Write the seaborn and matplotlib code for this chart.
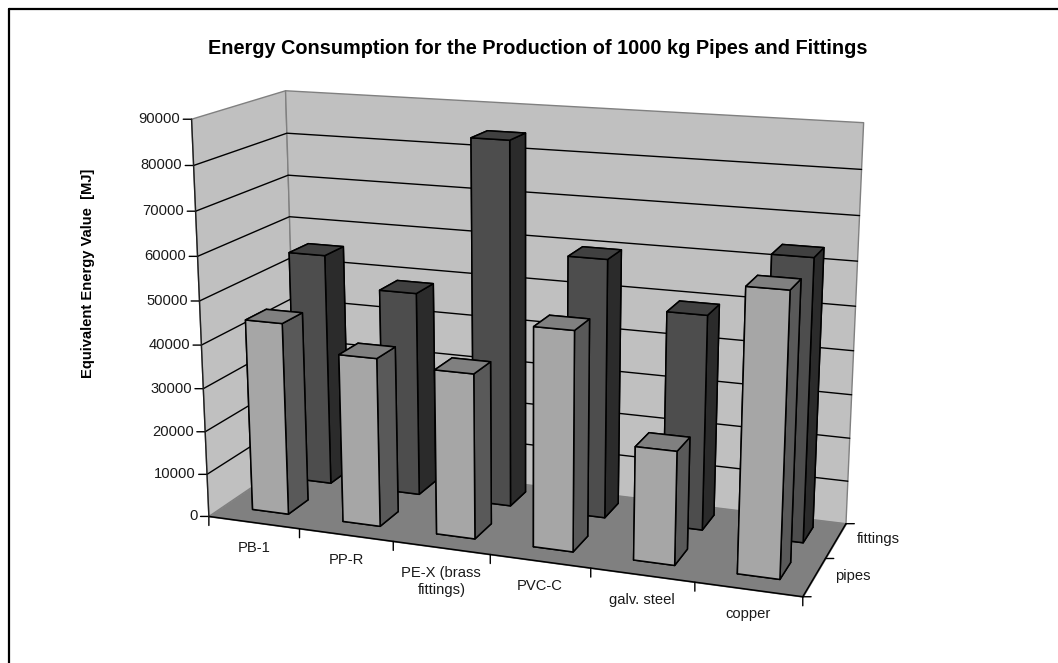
import matplotlib
matplotlib.use("Agg")
import matplotlib.pyplot as plt
from matplotlib.lines import Line2D
import numpy as np
import pandas as pd
import seaborn as sns
from mpl_toolkits.mplot3d import proj3d
from mpl_toolkits.mplot3d.art3d import Poly3DCollection

materials = ["PB-1", "PP-R", "PE-X (brass\nfittings)", "PVC-C", "galv. steel", "copper"]
pipes = [44500, 38700, 37500, 49200, 25300, 61700]
fittings = [55000, 48000, 84300, 59500, 49000, 63500]
series_names = ["pipes", "fittings"]
z_ticks = [0, 10000, 20000, 30000, 40000, 50000, 60000, 70000, 80000, 90000]

df = pd.DataFrame({"material": materials, "pipes": pipes, "fittings": fittings})
df = df.melt(id_vars="material", var_name="series", value_name="energy")

sns.set_theme(style="white")
plt.rcParams["font.family"] = ["Liberation Sans", "DejaVu Sans"]

# front, top and side shades for each series
shades = {
    "pipes": sns.color_palette(["#a6a6a6", "#808080", "#595959"]),
    "fittings": sns.color_palette(["#4d4d4d", "#404040", "#2b2b2b"]),
}

W, H = 1058, 663
fig = plt.figure(figsize=(W / 100, H / 100), dpi=100, facecolor="white")
# 3d axes stay square, so give it a square box wider than the figure is tall
ax = fig.add_axes([-0.0165, (H - W) / 2 / H - 0.013, 1, W / H], projection="3d")
ax.set_proj_type("persp", focal_length=0.35)
ax.view_init(elev=15, azim=-70)
ax.set_xlim(0, 6)
ax.set_ylim(0, 2)
ax.set_zlim(0, 90000)
ax.set_box_aspect((6.1, 2.0, 4.05), zoom=0.71)
ax.set_axis_off()
ax.computed_zorder = False
ax.patch.set_alpha(0)

nx, ny, zmax = len(materials), len(series_names), z_ticks[-1]

# walls and floor
left = [(0, 0, 0), (0, ny, 0), (0, ny, zmax), (0, 0, zmax)]
back = [(0, ny, 0), (nx, ny, 0), (nx, ny, zmax), (0, ny, zmax)]
floor = [(0, 0, 0), (nx, 0, 0), (nx, ny, 0), (0, ny, 0)]
ax.add_collection3d(Poly3DCollection([left, back], facecolor="#c0c0c0", edgecolor="#808080", linewidth=1.0, zorder=1))
ax.add_collection3d(Poly3DCollection([floor], facecolor="#808080", edgecolor="#808080", linewidth=0.8, zorder=2))

for z in z_ticks[1:-1]:
    ax.plot([0, 0, nx], [0, ny, ny], [z, z, z], color="black", lw=1.0, zorder=3)

# bars go back to front, left to right
zo = 10
width, depth = 0.40, 0.45
for s_i, name in reversed(list(enumerate(series_names))):
    rows = df[df["series"] == name].reset_index(drop=True)
    front, top, side = shades[name]
    for m_i, val in enumerate(rows["energy"]):
        # bar3d face order: bottom, top, front, back, left, right
        colors = [top, top, front, side, side, side]
        ax.bar3d(m_i + 0.515 - width / 2, s_i + 0.56 - depth / 2, 0, width, depth, val,
                 color=colors, edgecolor="black", linewidth=1.1, shade=False, zorder=zo)
        zo += 1

# floor front edges on top of everything but bars
ax.plot([0, nx, nx], [0, 0, ny], [0, 0, 0], color="black", lw=1.1, zorder=9)
ax.plot([0, 0], [0, 0], [0, zmax], color="#202020", lw=1.0, zorder=9)

proj = ax.get_proj()


def mark(x, y, z, dx, dy, label=None, tx=0, ty=0, ha="center", va="center"):
    px, py, _ = proj3d.proj_transform(x, y, z, proj)
    ax.annotate("", xy=(px, py), xytext=(dx, dy), textcoords="offset points",
                arrowprops=dict(arrowstyle="-", color="black", lw=1.0, shrinkA=0, shrinkB=0))
    if label is not None:
        ax.annotate(label, xy=(px, py), xytext=(tx, ty), textcoords="offset points",
                    ha=ha, va=va, fontsize=10.6, color="#1a1a1a", linespacing=1.25)


for z in z_ticks:
    mark(0, 0, z, -6, 0, f"{z}", -8, 0, ha="right")
for i in range(nx + 1):
    mark(i, 0, 0, 0, -6.5)
for i, m in enumerate(materials):
    mark(i + 0.5, 0, 0, 0, 0, m, 0, -13, va="top")
for j in range(ny + 1):
    mark(nx, j, 0, 6, 0)
for j, s in enumerate(series_names):
    mark(nx, j + 0.5, 0, 0, 0, s, 15, 1, ha="left")

# the frame only shows on the top and left
fig.add_artist(Line2D([8.5 / W, 8.5 / W], [0, 1 - 9 / H], color="black", lw=1.6))
fig.add_artist(Line2D([8.5 / W, 1], [1 - 9 / H, 1 - 9 / H], color="black", lw=1.6))

fig.text(537.5 / W, 1 - 48 / H, "Energy Consumption for the Production of 1000 kg Pipes and Fittings",
         ha="center", va="center", fontsize=14.3, fontweight="bold", color="black")
fig.text(88 / W, 1 - 273 / H, "Equivalent Energy Value  [MJ]", rotation=90, ha="center", va="center",
         fontsize=10.65, fontweight="bold", color="black")

fig.savefig("out.png", dpi=100)
